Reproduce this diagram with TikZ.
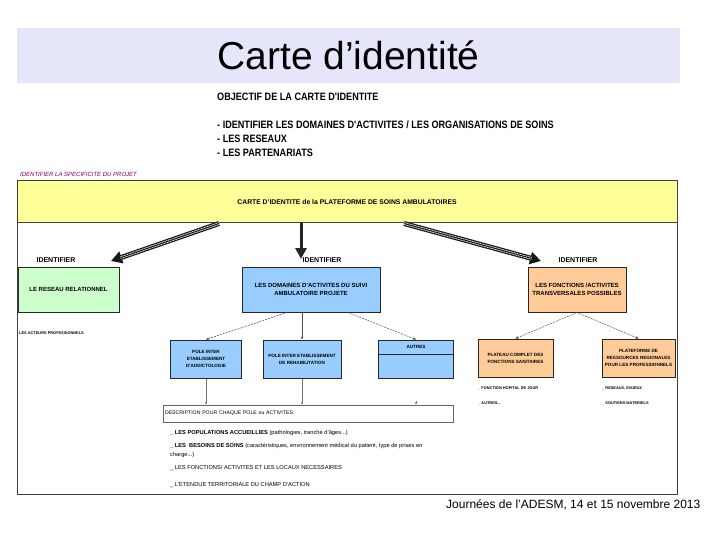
\documentclass[tikz,border=0pt]{standalone}
\usepackage{fontspec}
\setmainfont{Liberation Sans}
\newfontfamily\condensedfont{Liberation Sans}[FakeStretch=0.85]
\usepackage{xcolor}
\usetikzlibrary{arrows.meta,positioning,calc}

\definecolor{titlebg}{RGB}{230,230,250}
\definecolor{bandyellow}{RGB}{255,255,153}
\definecolor{boxgreen}{RGB}{204,255,204}
\definecolor{boxblue}{RGB}{153,204,255}
\definecolor{boxorange}{RGB}{255,204,153}
\definecolor{projpurple}{RGB}{128,0,96}

\begin{document}
\begin{tikzpicture}[x=1pt, y=-1pt,
    titlebar/.style={rectangle, fill=titlebg, minimum width=663pt, minimum height=55pt, font=\fontsize{39}{42}\selectfont},
    objtext/.style={anchor=west, inner sep=0pt, font=\condensedfont\bfseries\fontsize{10.7}{12}\selectfont},
    projtitle/.style={anchor=west, inner sep=0pt, text=projpurple, font=\itshape\fontsize{6}{7}\selectfont},
    frame/.style={draw=black!75, line width=1pt},
    band/.style={rectangle, draw=black!75, line width=1pt, fill=bandyellow, minimum width=660pt, minimum height=42pt, font=\bfseries\fontsize{6.8}{8}\selectfont},
    entry/.style={rectangle, draw=black!85, line width=1pt, minimum height=45pt, align=center, inner sep=1pt, font=\bfseries\fontsize{6}{8.5}\selectfont},
    pole/.style={rectangle, draw=black!85, line width=1pt, minimum height=38pt, align=center, inner sep=1pt, font=\bfseries\fontsize{4.6}{7}\selectfont},
    identify/.style={inner sep=0pt, font=\bfseries\fontsize{7}{8}\selectfont},
    note/.style={anchor=west, inner sep=0pt, font=\bfseries\fontsize{3.9}{5}\selectfont},
    item/.style={anchor=west, inner sep=0pt, font=\fontsize{5.7}{6.5}\selectfont},
    stripe/.style={-{Triangle[length=11pt,width=12pt]}, draw=black!90, line width=5pt,
        postaction={draw=white, -, line width=2.6pt, shorten >=10pt, dash pattern=on 1pt off 0.6pt},
        postaction={draw=black!90, -, line width=1pt, shorten >=10pt}},
    solidhead/.style={-{Triangle[length=11pt,width=11pt]}, draw=black!85, line width=3pt},
    link/.style={-{Stealth[length=3pt,width=2.6pt]}, draw=black!70, line width=0.5pt},
    dlink/.style={link, dash pattern=on 2pt off 1pt},
    drop/.style={-{Stealth[length=2.6pt,width=2.4pt]}, draw=black!55, line width=0.5pt}
]
\useasboundingbox (0,0) rectangle (720,540);

% title and objectives
\node (title) [titlebar] at (348.5,55.5) {Carte d’identité};
\node (objectif) [objtext] at (217,97) {OBJECTIF DE LA CARTE D'IDENTITE};
\node (goal1) [objtext] at (217,125) {- IDENTIFIER LES DOMAINES D'ACTIVITES / LES ORGANISATIONS DE SOINS};
\node (goal2) [objtext] at (217,139) {- LES RESEAUX};
\node (goal3) [objtext] at (217,153) {- LES PARTENARIATS};
\node (projet) [projtitle] at (20,174) {IDENTIFIER LA SPECIFICITE DU PROJET};

% frame and yellow band
\draw[frame] (17,181) rectangle (677,494);
\node (band) [band] at (347,202) {CARTE D'IDENTITE de la PLATEFORME DE SOINS AMBULATOIRES};

% first level
\node (idreseau) [identify] at (56,260) {IDENTIFIER};
\node (iddomaines) [identify] at (322,260) {IDENTIFIER};
\node (idfonctions) [identify] at (578,260) {IDENTIFIER};
\coordinate (tipreseau) at (111,261);
\coordinate (tipdomaines) at (301,259);
\coordinate (tipfonctions) at (541,261);

\node (reseau) [entry, fill=boxgreen, minimum width=101pt] at (68.5,289.5) {LE RESEAU RELATIONNEL};
\node (domaines) [entry, fill=boxblue, minimum width=138pt] at (311,289.5) {LES DOMAINES D'ACTIVITES DU SUIVI\\AMBULATOIRE PROJETE};
\node (fonctions) [entry, fill=boxorange, minimum width=98pt] at (577,289.5) {LES FONCTIONS /ACTIVITES\\TRANSVERSALES POSSIBLES};
\node (acteurs) [note] at (19,333) {LES ACTEURS PROFESSIONNELS};

% poles
\node (addicto) [pole, fill=boxblue, minimum width=71pt] at (206,359) {POLE INTER\\ETABLISSEMENT\\D'ADDICTOLOGIE};
\node (rehab) [pole, fill=boxblue, minimum width=78pt] at (302,359) {POLE INTER ETABLISSEMENT\\DE REHABILITATION};
\node (autres) [pole, fill=boxblue, minimum width=75pt] at (416,359) {};
\draw[draw=black!85, line width=1pt] (autres.west |- 0,354) -- (autres.east |- 0,354);
\node (autreslabel) [identify, font=\bfseries\fontsize{4.6}{6}\selectfont] at (416,347) {AUTRES};

\node (plateau) [pole, fill=boxorange, minimum width=75pt] at (515.5,358) {PLATEAU COMPLET DES\\FONCTIONS SANITAIRES};
\node (plateforme) [pole, fill=boxorange, minimum width=73pt] at (638.5,358) {PLATEFORME DE\\RESSOURCES REGIONALES\\POUR LES PROFESSIONNELS};
\node (hopital) [note] at (478,388) {\_ FONCTION HOPITAL DE JOUR};
\node (autresfn) [note] at (478,403) {\_ AUTRES...};
\node (enjeux) [note] at (602,388) {\_ RESEAUX, ENJEUX};
\node (soutien) [note] at (602,403) {\_ SOUTIENS MATERIELS};

% description
\node (desc) [rectangle, draw=black!60, line width=0.7pt, minimum height=17pt, text width=286pt, align=left, inner sep=2pt, font=\fontsize{5.2}{6}\selectfont] at (308,413.5) {DESCRIPTION POUR CHAQUE POLE ou ACTIVITES:};
\coordinate (autresgap) at (416,401);
\node (populations) [item] at (170,433) {\textbf{\_ LES POPULATIONS ACCUEILLIES} (pathologies, tranche d'âges...)};
\node (besoins) [item] at (170,446) {\textbf{\_ LES\ \ BESOINS DE SOINS} (caractéristiques, environnement médical du patient, type de prises en};
\node (charge) [item] at (170,455) {charge...)};
\node (locaux) [item] at (170,468) {\_ LES FONCTIONS/ ACTIVITES ET LES LOCAUX NECESSAIRES};
\node (etendue) [item] at (170,485) {\_ L'ETENDUE TERRITORIALE DU CHAMP D'ACTION};

\node (footer) [anchor=base west, inner sep=0pt, font=\fontsize{12}{14}\selectfont] at (446,508) {Journées de l'ADESM, 14 et 15 novembre 2013};

% connectors
\draw[stripe] ([xshift=-128pt]band.south) -- (tipreseau);
\draw[solidhead] (band.south -| tipdomaines) -- (tipdomaines);
\draw[stripe] ([xshift=57pt]band.south) -- (tipfonctions);

\draw[dlink] ([xshift=-24pt]domaines.south) -- (addicto.north);
\draw[link] (domaines.south -| rehab.north) -- (rehab.north);
\draw[dlink] ([xshift=37pt]domaines.south) -- (autres.north);
\draw[dlink] (fonctions.south) -- (plateau.north);
\draw[dlink] (fonctions.south) -- (plateforme.north);

\draw[drop] (addicto.south) -- (addicto.south |- desc.north);
\draw[drop] (rehab.south) -- (rehab.south |- desc.north);
\draw[drop] (autresgap) -- (autres.south |- desc.north);

\end{tikzpicture}
\end{document}
